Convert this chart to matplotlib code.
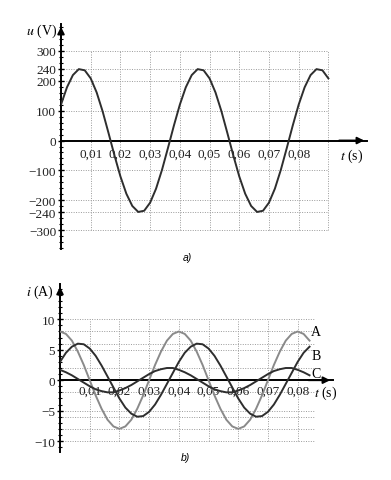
import matplotlib
matplotlib.use("Agg")
import matplotlib.pyplot as plt
from matplotlib.ticker import FixedLocator, MultipleLocator

# --- data (time in ms) ---
t_u_ms = [0, 2, 4, 6, 8, 10, 12, 14, 16, 18, 20, 22, 24, 26, 28, 30, 32, 34, 36, 38,
          40, 42, 44, 46, 48, 50, 52, 54, 56, 58, 60, 62, 64, 66, 68, 70, 72, 74, 76, 78,
          80, 82, 84, 86, 88, 90]
u_volts = [120, 178, 219, 239, 235, 208, 161, 98, 25, -50,
           -120, -178, -219, -239, -235, -208, -161, -98, -25, 50,
           120, 178, 219, 239, 235, 208, 161, 98, 25, -50,
           -120, -178, -219, -239, -235, -208, -161, -98, -25, 50,
           120, 178, 219, 239, 235, 208]

t_i_ms = [0, 2, 4, 6, 8, 10, 12, 14, 16, 18, 20, 22, 24, 26, 28, 30, 32, 34, 36, 38,
          40, 42, 44, 46, 48, 50, 52, 54, 56, 58, 60, 62, 64, 66, 68, 70, 72, 74, 76, 78,
          80, 82, 84]
i_A = [8.0, 7.6, 6.5, 4.7, 2.5, 0.0, -2.5, -4.7, -6.5, -7.6,
       -8.0, -7.6, -6.5, -4.7, -2.5, 0.0, 2.5, 4.7, 6.5, 7.6,
       8.0, 7.6, 6.5, 4.7, 2.5, 0.0, -2.5, -4.7, -6.5, -7.6,
       -8.0, -7.6, -6.5, -4.7, -2.5, 0.0, 2.5, 4.7, 6.5, 7.6,
       8.0, 7.6, 6.5]
i_B = [3.0, 4.5, 5.5, 6.0, 5.9, 5.2, 4.0, 2.4, 0.6, -1.2,
       -3.0, -4.5, -5.5, -6.0, -5.9, -5.2, -4.0, -2.4, -0.6, 1.2,
       3.0, 4.5, 5.5, 6.0, 5.9, 5.2, 4.0, 2.4, 0.6, -1.2,
       -3.0, -4.5, -5.5, -6.0, -5.9, -5.2, -4.0, -2.4, -0.6, 1.2,
       3.0, 4.5, 5.5]
i_C = [1.7, 1.3, 0.8, 0.2, -0.4, -1.0, -1.5, -1.8, -2.0, -2.0,
       -1.7, -1.3, -0.8, -0.2, 0.4, 1.0, 1.5, 1.8, 2.0, 2.0,
       1.7, 1.3, 0.8, 0.2, -0.4, -1.0, -1.5, -1.8, -2.0, -2.0,
       -1.7, -1.3, -0.8, -0.2, 0.4, 1.0, 1.5, 1.8, 2.0, 2.0,
       1.7, 1.3, 0.8]

u_ticks = [-300, -240, -200, -100, 0, 100, 200, 240, 300]
u_grid = [-300, -240, -200, -100, 100, 200, 240, 300]
i_ticks = [-10, -5, 0, 5, 10]
i_grid = [-10, -8, -6, -5, -2, 2, 5, 6, 8, 10]
t_ticks = [0.01, 0.02, 0.03, 0.04, 0.05, 0.06, 0.07, 0.08]
t_grid_u = [0.01, 0.02, 0.03, 0.04, 0.05, 0.06, 0.07, 0.08, 0.09]
t_grid_i = [0.01, 0.02, 0.03, 0.04, 0.05, 0.06, 0.07, 0.08]

plt.rcParams['font.family'] = 'Liberation Serif'
plt.rcParams['mathtext.fontset'] = 'stix'

W, H = 391, 481
fig = plt.figure(figsize=(W / 100, H / 100), dpi=100)


def px_axes(left, top, right, bottom):
    return fig.add_axes([left / W, 1 - bottom / H, (right - left) / W, (bottom - top) / H])


def style_axes(ax, yticks, minor, tpad):
    for s in ['top', 'right']:
        ax.spines[s].set_visible(False)
    ax.spines['left'].set_position(('data', 0))
    ax.spines['bottom'].set_position(('data', 0))
    ax.spines['left'].set_linewidth(1.4)
    ax.spines['bottom'].set_linewidth(1.4)
    ax.yaxis.set_major_locator(FixedLocator(yticks))
    ax.yaxis.set_minor_locator(MultipleLocator(minor))
    ax.tick_params(axis='y', which='major', direction='inout', length=5, width=1, pad=1,
                   labelsize=9.5, labelcolor='#222222')
    ax.tick_params(axis='y', which='minor', direction='inout', length=3.5, width=0.8)
    ax.xaxis.set_major_locator(FixedLocator(t_ticks))
    ax.set_xticklabels([f"{v:.2f}".replace('.', ',') for v in t_ticks])
    ax.tick_params(axis='x', which='major', length=0, pad=tpad, labelsize=9.5,
                   labelcolor='#222222')
    ax.patch.set_visible(False)


def arrows(ax, xmax, ymax):
    ax.annotate('', xy=(xmax, 0), xytext=(xmax * 0.9, 0),
                arrowprops=dict(arrowstyle='-|>', color='k', lw=1.4, mutation_scale=10),
                annotation_clip=False)
    yl = ax.get_ylim()
    ax.annotate('', xy=(0, ymax), xytext=(0, ymax - 0.1 * (yl[1] - yl[0])),
                arrowprops=dict(arrowstyle='-|>', color='k', lw=1.4, mutation_scale=10),
                annotation_clip=False)


grid_kw = dict(color='#9a9a9a', lw=0.7, ls=(0, (1, 1.5)), zorder=1)

# --- a) voltage ---
ax1 = px_axes(61, 25, 367, 250)
ax1.set_xlim(0, 0.103)
ax1.set_ylim(-363, 390)
for g in u_grid:
    ax1.plot([0, 0.09], [g, g], **grid_kw)
for g in t_grid_u:
    ax1.plot([g, g], [-300, 300], **grid_kw)
ax1.plot([t / 1000 for t in t_u_ms], u_volts, color='#2e2e2e', lw=1.4, zorder=3)
style_axes(ax1, u_ticks, 20, 5)
arrows(ax1, 0.103, 390)

fig.text(57 / W, 1 - 31 / H, r'$u$ (V)', ha='right', va='center', fontsize=10)
fig.text(352 / W, 1 - 156 / H, r'$t$ (s)', ha='center', va='center', fontsize=10)
fig.text(187 / W, 1 - 258 / H, 'a)', ha='center', va='center', fontsize=7.5,
         family='Liberation Sans', style='italic')

# --- b) currents ---
ax2 = px_axes(60, 285, 333, 453)
ax2.set_xlim(0, 0.0919)
ax2.set_ylim(-11.8, 15.8)
for g in i_grid:
    ax2.plot([0, 0.086], [g, g], **grid_kw)
for g in t_grid_i:
    ax2.plot([g, g], [-10, 10], **grid_kw)
t_i = [t / 1000 for t in t_i_ms]
ax2.plot(t_i, i_A, color='#8a8a8a', lw=1.4, zorder=3)
ax2.plot(t_i, i_B, color='#2e2e2e', lw=1.4, zorder=3)
ax2.plot(t_i, i_C, color='#2e2e2e', lw=1.4, zorder=3)
style_axes(ax2, i_ticks, 1, 3)
arrows(ax2, 0.0919, 15.8)

fig.text(54 / W, 1 - 292 / H, r'$i$ (A)', ha='right', va='center', fontsize=10)
fig.text(326 / W, 1 - 393 / H, r'$t$ (s)', ha='center', va='center', fontsize=10)
for lab, y in [('A', 332), ('B', 357), ('C', 374)]:
    fig.text(316 / W, 1 - y / H, lab, ha='center', va='center', fontsize=10)
fig.text(185 / W, 1 - 458 / H, 'b)', ha='center', va='center', fontsize=7.5,
         family='Liberation Sans', style='italic')

fig.savefig('out.png', dpi=100)
